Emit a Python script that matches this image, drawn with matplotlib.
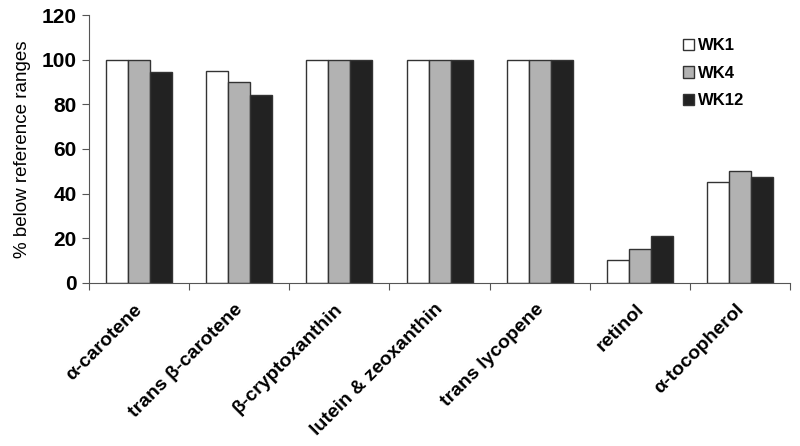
import numpy as np
import matplotlib.pyplot as plt
import matplotlib.transforms as mtransforms

plt.rcParams['font.family'] = ['Liberation Sans', 'DejaVu Sans']

categories = ['α-carotene', 'trans β-carotene', 'β-cryptoxanthin',
              'lutein & zeoxanthin', 'trans lycopene', 'retinol', 'α-tocopherol']
wk1 = [100, 95, 100, 100, 100, 10, 45]
wk4 = [100, 90, 100, 100, 100, 15, 50]
wk12 = [94.5, 84, 100, 100, 100, 21, 47.5]
series = ['WK1', 'WK4', 'WK12']
colors = ['white', '#b2b2b2', '#222222']

fig = plt.figure(figsize=(8, 4.46), dpi=100)
ax = fig.add_axes([0.111, 0.366, 0.877, 0.600])

x = np.arange(len(categories))
w = 0.22
for i, (vals, name, c) in enumerate(zip([wk1, wk4, wk12], series, colors)):
    ax.bar(x + (i - 1) * w, vals, w, color=c, edgecolor='#333333',
           linewidth=1.0, label=name)

ax.set_xlim(-0.5, len(categories) - 0.5)
ax.set_ylim(0, 120)
ax.set_yticks(range(0, 121, 20))
for s in ['top', 'right']:
    ax.spines[s].set_visible(False)
ax.spines['left'].set_color('#555555')
ax.spines['bottom'].set_color('#555555')

# ticks at category boundaries, labels at centres
ax.set_xticks(np.arange(len(categories) + 1) - 0.5)
ax.set_xticklabels([])
ax.tick_params(axis='x', length=5, color='#555555')
ax.set_xticks(x, minor=True)
ax.set_xticklabels(categories, minor=True, rotation=45, ha='right',
                   rotation_mode='anchor', fontsize=14, fontweight='bold')
ax.tick_params(axis='x', which='minor', length=0, pad=13)
shift = mtransforms.ScaledTranslation(-5 / 100, 0, fig.dpi_scale_trans)
for t in ax.get_xticklabels(minor=True):
    t.set_transform(t.get_transform() + shift)
ax.tick_params(axis='y', length=5, color='#555555', labelsize=15)
for t in ax.get_yticklabels():
    t.set_fontweight('bold')

ax.set_ylabel('% below reference ranges', fontsize=13.5, labelpad=8)

leg = ax.legend(loc='upper right', bbox_to_anchor=(0.955, 0.97), frameon=False,
                prop={'weight': 'bold', 'size': 12}, handlelength=0.7,
                handleheight=0.7, handletextpad=0.2, labelspacing=0.75)

fig.savefig('out.png', dpi=100)
